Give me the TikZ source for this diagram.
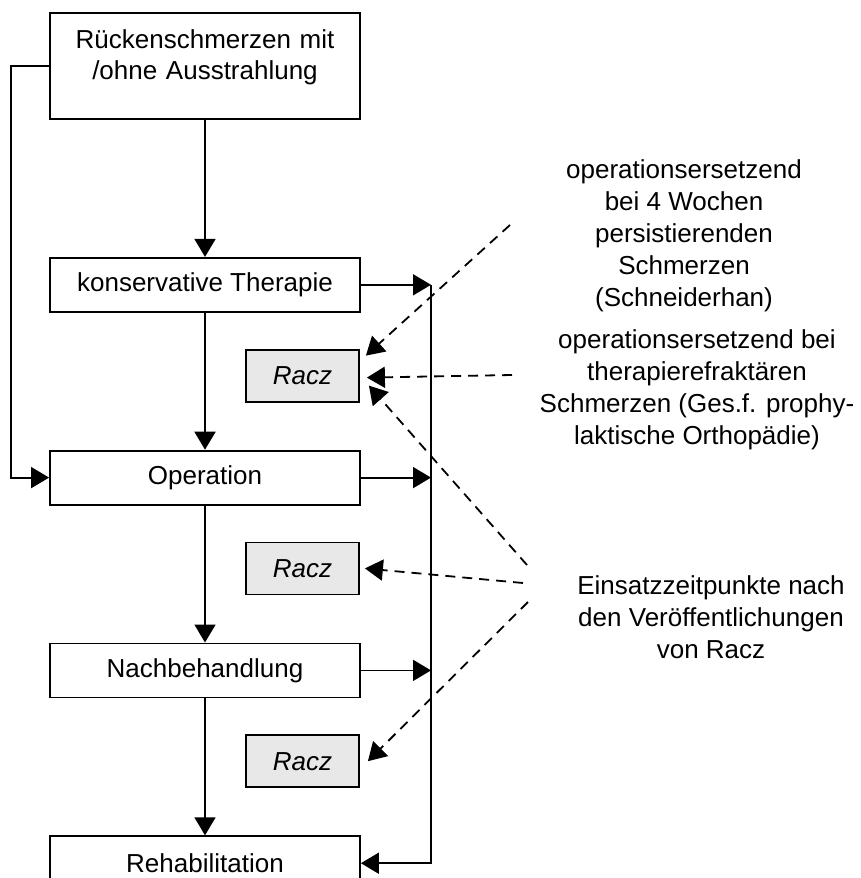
\documentclass[tikz,border=0pt]{standalone}
\usepackage{fontspec}
\setmainfont{Liberation Sans}
\usetikzlibrary{arrows.meta,positioning}

\begin{document}
\begin{tikzpicture}[x=1pt,y=-1pt,node distance=137pt,
	font=\fontsize{26}{32}\selectfont, line width=1.8pt,
	box/.style={draw, minimum width=310pt, minimum height=54pt, inner sep=4pt},
	racz/.style={draw, fill=gray!18, minimum width=113pt, minimum height=52pt, inner sep=4pt, font=\fontsize{26}{32}\selectfont\itshape},
	note/.style={align=center, inner sep=0pt},
	arr/.style={-{Triangle[length=18pt,width=21pt]}},
	hint/.style={arr, dash pattern=on 10pt off 7pt}]
			\useasboundingbox (0,0) rectangle (860,878);
			% Define nodes
			\node[box, text width=290pt, align=center, text height=31pt, text depth=67pt] (rs) at (205,66) {Rückenschmerzen mit\\/ohne Ausstrahlung}; %
			\node[box, below=of rs] (kt) {konservative Therapie}; %
			\node[box, below=of kt] (op) {Operation}; %
			\node[box, below=of op] (nb) {Nachbehandlung}; %
			\node[box, below=of nb] (rh) {Rehabilitation}; %
			\node[racz, below=36pt of kt, xshift=97.5pt] (r1) {Racz}; %
			\node[racz, below=36pt of op, xshift=97.5pt] (r2) {Racz}; %
			\node[racz, below=36pt of nb, xshift=97.5pt] (r3) {Racz}; %
			\node[note] (t1) at (684,236) {operationsersetzend\\bei 4 Wochen\\persistierenden\\Schmerzen\\(Schneiderhan)}; %
			\node[note] (t2) at (697,390) {operationsersetzend bei\\therapierefraktären\\Schmerzen (Ges.f. prophy-\\laktische Orthopädie)}; %
			\node[note] (t3) at (711,617) {Einsatzzeitpunkte nach\\den Veröffentlichungen\\von Racz}; %
			\coordinate (bus) at (431,284);
			\coordinate (h1) at (510,225);
			\coordinate (h2) at (512,375);
			\coordinate (h3) at (527,565);
			\coordinate (h4) at (523,583);
			\coordinate (h5) at (528,602);
			%%add edge
			\draw[arr] (rs) -- (kt);
			\draw[arr] (kt) -- (op);
			\draw[arr] (op) -- (nb);
			\draw[arr] (nb) -- (rh);
			\draw[arr] (rs.west) -- ++(-38,0) |- (op);
			\draw[arr] (kt) -- (kt -| bus);
			\draw[arr] (op) -- (op -| bus);
			\draw[arr] (nb) -- (nb -| bus);
			\draw[arr] (kt -| bus) |- (rh);
			\draw[hint] (h1) -- ([shift={(6,-20)}]r1.east);
			\draw[hint] (h2) -- ([shift={(7,2)}]r1.east);
			\draw[hint] (h3) -- ([shift={(9,10)}]r1.east);
			\draw[hint] (h4) -- ([xshift=5pt]r2.east);
			\draw[hint] (h5) -- ([xshift=8pt]r3.east);
\end{tikzpicture}
\end{document}
